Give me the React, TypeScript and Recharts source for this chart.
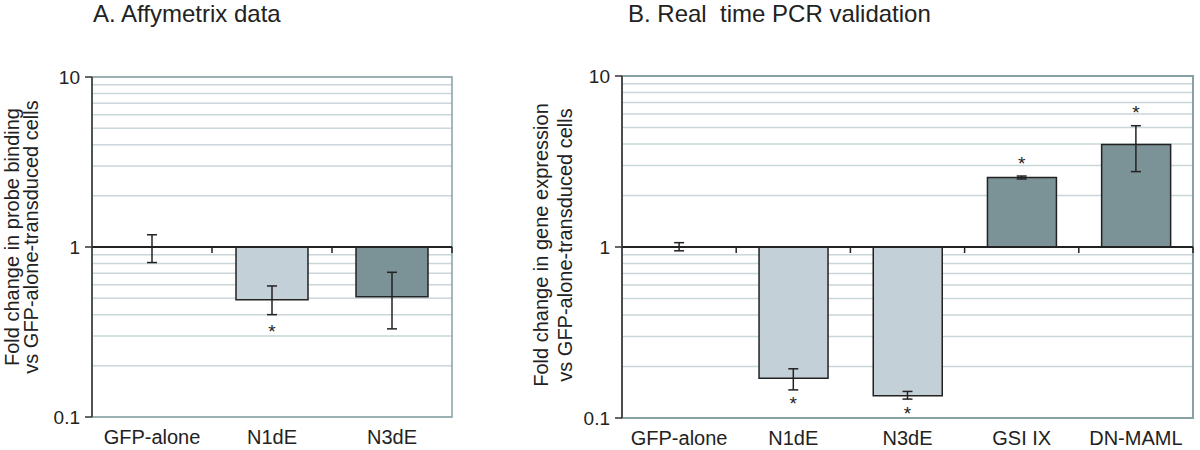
import React from 'react'
import {
    ComposedChart,
    Bar,
    Cell,
    ErrorBar,
    Scatter,
    XAxis,
    YAxis,
    CartesianGrid,
    ReferenceLine,
    ReferenceArea,
} from 'recharts'

// Panel A - Affymetrix
const affyCategories = ['GFP-alone', 'N1dE', 'N3dE']
const affyValues = [1, 0.49, 0.51]
const affyErrLow = [0.81, 0.4, 0.33]
const affyErrHigh = [1.18, 0.59, 0.71]
const affyStars: (number | null)[] = [null, 0.33, null]

// Panel B - real time PCR
const pcrCategories = ['GFP-alone', 'N1dE', 'N3dE', 'GSI IX', 'DN-MAML']
const pcrValues = [1, 0.171, 0.135, 2.55, 3.98]
const pcrErrLow = [0.95, 0.146, 0.129, 2.5, 2.76]
const pcrErrHigh = [1.06, 0.194, 0.143, 2.6, 5.12]
const pcrStars: (number | null)[] = [null, 0.126, 0.11, 3.19, 6.3]

const majorTicks = [0.1, 1, 10]
const gridTicks = [0.1, 0.2, 0.3, 0.4, 0.5, 0.6, 0.7, 0.8, 0.9, 1, 2, 3, 4, 5, 6, 7, 8, 9, 10]

const LIGHT = '#c4d0d7'
const DARK = '#7b9297'
const affyColors = [LIGHT, LIGHT, DARK]
const pcrColors = [LIGHT, LIGHT, LIGHT, DARK, DARK]

const buildRows = (cats: string[], vals: number[], lo: number[], hi: number[], stars: (number | null)[]) =>
    cats.map((name, i) => ({
        name,
        value: vals[i],
        range: [1, vals[i]],
        err: [vals[i] - lo[i], hi[i] - vals[i]],
        star: stars[i],
    }))

const affyRows = buildRows(affyCategories, affyValues, affyErrLow, affyErrHigh, affyStars)
const pcrRows = buildRows(pcrCategories, pcrValues, pcrErrLow, pcrErrHigh, pcrStars)

const YTick = (props: any) => {
    const { x, y, payload } = props
    if (!majorTicks.includes(payload.value)) return null
    return (
        <g>
            <line x1={x + 5} x2={x + 12} y1={y} y2={y} stroke="#333" strokeWidth={1.5} />
            <text x={x} y={y} dy="0.36em" textAnchor="end" fontSize={19} fill="#222">
                {payload.value}
            </text>
        </g>
    )
}

const XTick = (props: any) => {
    const { x, y, payload } = props
    return (
        <text x={x} y={y + 19} textAnchor="middle" fontSize={20} fill="#222">
            {payload.value}
        </text>
    )
}

const AxisTitle = (props: any) => {
    const { viewBox, lines, baselines, shift } = props
    const cy = viewBox.y + viewBox.height / 2 + shift
    return (
        <g>
            {lines.map((line: string, i: number) => (
                <text
                    key={line}
                    x={baselines[i]}
                    y={cy}
                    transform={`rotate(-90, ${baselines[i]}, ${cy})`}
                    textAnchor="middle"
                    fontSize={20}
                    fill="#222"
                >
                    {line}
                </text>
            ))}
        </g>
    )
}

const Star = (props: any) => {
    const { cx, cy, payload } = props
    if (payload.star == null) return <g />
    return (
        <text x={cx} y={cy} dy={9} textAnchor="middle" fontSize={19} fill="#222">
            *
        </text>
    )
}

const Hidden = () => <g />

// baseline at 1 with category separator ticks
const makeBaseline = (n: number) => (props: any) => {
    const { x1, x2, y1 } = props
    const step = (x2 - x1) / n
    const ticks = Array.from({ length: n }, (_, i) => x1 + step * (i + 1))
    return (
        <g>
            <line x1={x1} x2={x2} y1={y1} y2={y1} stroke="#222" strokeWidth={2} />
            {ticks.map((tx) => (
                <line key={tx} x1={tx} x2={tx} y1={y1} y2={y1 + 6} stroke="#222" strokeWidth={1.5} />
            ))}
        </g>
    )
}

interface FoldChartProps {
    data: any[]
    colors: string[]
    width: number
    yAxisWidth: number
    top: number
    right: number
    xAxisHeight: number
    titleLines: string[]
    titleBaselines: number[]
    titleShift: number
    frameWidth: number
}

function FoldChart({ data, colors, width, yAxisWidth, top, right, xAxisHeight, titleLines, titleBaselines, titleShift, frameWidth }: FoldChartProps) {
    return (
        <ComposedChart
            width={width}
            height={450}
            data={data}
            margin={{ top, right, bottom: 0, left: 0 }}
            barCategoryGap="20%"
        >
            <CartesianGrid vertical={false} stroke="#c9d6da" strokeWidth={1.5} />
            <ReferenceArea y1={0.1} y2={10} fill="none" stroke="#86a0a4" strokeWidth={frameWidth} fillOpacity={0} />
            <XAxis
                dataKey="name"
                type="category"
                axisLine={false}
                tickLine={false}
                height={xAxisHeight}
                tick={<XTick />}
                interval={0}
            />
            <YAxis
                type="number"
                scale="log"
                domain={[0.1, 10]}
                allowDataOverflow
                ticks={gridTicks}
                interval={0}
                width={yAxisWidth}
                tickSize={7}
                tickMargin={5}
                tickLine={false}
                axisLine={{ stroke: '#333', strokeWidth: 1.5 }}
                tick={<YTick />}
                label={<AxisTitle lines={titleLines} baselines={titleBaselines} shift={titleShift} />}
            />
            <Bar dataKey="range" stroke="#222" strokeWidth={1.5} isAnimationActive={false}>
                {data.map((d, i) => (
                    <Cell key={d.name} fill={colors[i]} />
                ))}
            </Bar>
            <ReferenceLine y={1} shape={makeBaseline(data.length)} />
            <Scatter dataKey="value" shape={<Hidden />} isAnimationActive={false}>
                <ErrorBar dataKey="err" width={5} stroke="#222" strokeWidth={1.5} direction="y" />
            </Scatter>
            <Scatter dataKey="star" shape={<Star />} isAnimationActive={false} />
        </ComposedChart>
    )
}

export default function App() {
    return (
        <div
            style={{
                position: 'absolute',
                left: 0,
                top: 0,
                width: 1200,
                height: 450,
                background: '#fff',
                fontFamily: '"Liberation Sans", Arial, sans-serif',
                color: '#222',
                overflow: 'hidden',
            }}
        >
            <div style={{ position: 'absolute', left: 93, top: 0, fontSize: 24, lineHeight: 'normal' }}>
                A. Affymetrix data
            </div>
            <div style={{ position: 'absolute', left: 628, top: 0, fontSize: 24, lineHeight: 'normal', whiteSpace: 'pre' }}>
                B. Real  time PCR validation
            </div>
            <div style={{ position: 'absolute', left: 0, top: 0 }}>
                <FoldChart
                    data={affyRows}
                    colors={affyColors}
                    width={470}
                    yAxisWidth={92}
                    top={77}
                    right={18}
                    xAxisHeight={33}
                    titleLines={['Fold change in probe binding', 'vs GFP-alone-transduced cells']}
                    titleBaselines={[19, 38]}
                    titleShift={-10}
                    frameWidth={1.5}
                />
            </div>
            <div style={{ position: 'absolute', left: 480, top: 0 }}>
                <FoldChart
                    data={pcrRows}
                    colors={pcrColors}
                    width={720}
                    yAxisWidth={142}
                    top={76}
                    right={7}
                    xAxisHeight={32}
                    titleLines={['Fold change in gene expression', 'vs GFP-alone-transduced cells']}
                    titleBaselines={[68, 92]}
                    titleShift={-2}
                    frameWidth={2}
                />
            </div>
        </div>
    )
}
